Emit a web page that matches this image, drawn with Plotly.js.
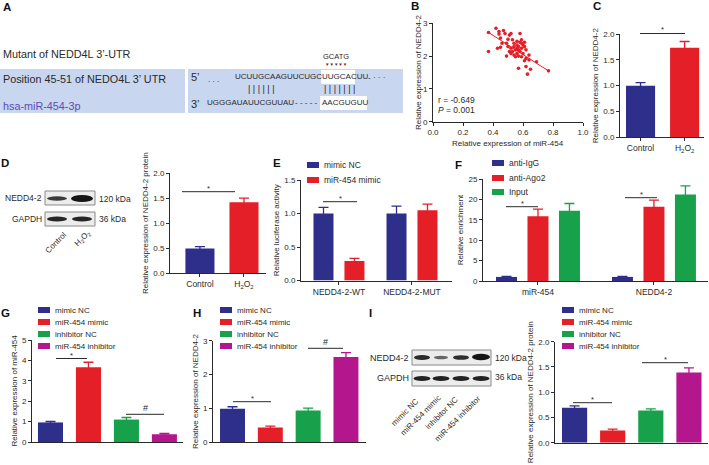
<!DOCTYPE html>
<html><head><meta charset="utf-8">
<script src="https://cdn.plot.ly/plotly-3.0.1.min.js"></script>
<style>html,body{margin:0;padding:0;background:#fff}#chart{width:709px;height:465px}</style>
</head><body><div id="chart"></div>
<script>
// ================= DATA =================
// B: correlation scatter
const scatterMiR454 = [0.37,0.37,0.42,0.44,0.44,0.45,0.47,0.48,0.43,0.45,0.49,0.50,0.51,0.52,0.53,0.56,0.58,0.59,0.60,0.61,0.61,0.59,0.57,0.55,0.53,0.51,0.52,0.54,0.56,0.57,0.58,0.60,0.56,0.54,0.52,0.49,0.55,0.57,0.59,0.62,0.61,0.64,0.57,0.62,0.65,0.63,0.69,0.77,0.58,0.54,0.46,0.59,0.62,0.64,0.50,0.56];
const scatterNEDD42 = [2.72,2.14,2.85,2.75,2.67,2.55,2.78,2.69,2.24,2.27,2.39,2.51,2.64,2.69,2.50,2.45,2.42,2.39,2.34,2.42,2.29,2.24,2.19,2.19,2.14,2.14,2.24,2.29,2.24,2.29,2.14,2.08,2.08,2.03,2.08,2.00,1.98,2.00,1.98,1.93,1.86,1.88,1.63,1.68,1.60,1.45,1.83,1.55,2.69,2.39,2.39,2.50,2.19,2.03,2.29,2.34];
const fitMiR454 = [0.37, 0.77];
const fitNEDD42 = [2.72, 1.55];
const statR = '-0.649';
const statP = '0.001';

// C: NEDD4-2 mRNA, Control vs H2O2
const ctrlCategories = ['Control', 'H<sub>2</sub>O<sub>2</sub>'];
const cValues = [1.00, 1.74];
const cErrors = [0.06, 0.12];

// D: NEDD4-2 protein, Control vs H2O2
const dValues = [0.49, 1.42];
const dErrors = [0.04, 0.08];

// E: luciferase
const eCategories = ['NEDD4-2-WT', 'NEDD4-2-MUT'];
const eSeries = ['mimic NC', 'miR-454 mimic'];
const eMimicNC = [1.00, 1.00];
const eMimicNCErr = [0.09, 0.11];
const eMiR454Mimic = [0.29, 1.05];
const eMiR454MimicErr = [0.04, 0.09];

// F: RIP enrichment
const fCategories = ['miR-454', 'NEDD4-2'];
const fSeries = ['anti-IgG', 'anti-Ago2', 'Input'];
const fAntiIgG = [1.0, 1.0];
const fAntiIgGErr = [0.15, 0.15];
const fAntiAgo2 = [15.9, 18.2];
const fAntiAgo2Err = [1.7, 1.6];
const fInput = [17.2, 21.2];
const fInputErr = [1.8, 2.1];

// G, H, I
const ghiSeries = ['mimic NC', 'miR-454 mimic', 'inhibitor NC', 'miR-454 inhibitor'];
const gValues = [0.96, 3.66, 1.10, 0.38];
const gErrors = [0.05, 0.25, 0.10, 0.04];
const hValues = [0.99, 0.44, 0.94, 2.52];
const hErrors = [0.06, 0.04, 0.07, 0.13];
const iValues = [0.69, 0.24, 0.64, 1.39];
const iErrors = [0.04, 0.03, 0.03, 0.09];

// ================= STYLE / LAYOUT HELPERS =================
const W = 709, H = 465;
const FONT = 'Liberation Sans, Arial, Helvetica, sans-serif';
const INK = '#2a2a2a';
const BLUE = '#2e2f8a', RED = '#e41f27', GREEN = '#17a14b', MAG = '#b4178d';
const PAL4 = [BLUE, RED, GREEN, MAG];
const X = p => p / W;
const Y = p => 1 - p / H;

const layout = {
  width: W, height: H, margin: {l: 0, r: 0, t: 0, b: 0},
  paper_bgcolor: '#fff', plot_bgcolor: 'rgba(0,0,0,0)',
  showlegend: false, barmode: 'overlay',
  font: {family: FONT, size: 8, color: INK},
  shapes: [], annotations: []
};
const data = [];

function yAxis(xId, top, bottom, range, dtick, fmt, title, standoff) {
  return {domain: [Y(bottom), Y(top)], anchor: xId, range: range, dtick: dtick, tick0: 0, tickformat: fmt,
    showline: true, linecolor: INK, linewidth: 1, ticks: 'outside', ticklen: 3, tickwidth: 1, tickcolor: INK,
    tickfont: {family: FONT, size: 8, color: INK}, showgrid: false, zeroline: false, fixedrange: true,
    title: {text: title, font: {family: FONT, size: 8, color: INK}, standoff: standoff === undefined ? 3 : standoff}};
}
function xAxis(yId, left, right, range, showLabels, type) {
  return {domain: [X(left), X(right)], anchor: yId, range: range, type: type || 'category',
    showline: true, linecolor: INK, linewidth: 1, ticks: showLabels ? 'outside' : '', ticklen: 3, tickwidth: 1, tickcolor: INK,
    showticklabels: showLabels, tickfont: {family: FONT, size: 8.5, color: INK}, showgrid: false, zeroline: false, fixedrange: true};
}
function bar(xa, ya, cats, vals, errs, color, width, offset) {
  data.push({type: 'bar', x: cats, y: vals, xaxis: xa, yaxis: ya, width: width, offset: offset,
    marker: {color: color, line: {width: 0}},
    error_y: {type: 'data', array: errs, symmetric: true, visible: true, color: color, thickness: 1.3, width: 5},
    hoverinfo: 'skip', showlegend: false});
}
function text(x, y, t, opt) {
  opt = opt || {};
  layout.annotations.push(Object.assign({xref: 'paper', yref: 'paper', x: X(x), y: Y(y), text: t, showarrow: false,
    xanchor: 'left', yanchor: 'middle', borderpad: 0,
    font: {family: FONT, size: opt.size || 8.5, color: opt.color || INK}}, opt.extra || {}));
}
function rect(x0, y0, x1, y1, fill, line, lw) {
  layout.shapes.push({type: 'rect', xref: 'paper', yref: 'paper', x0: X(x0), x1: X(x1), y0: Y(y0), y1: Y(y1),
    fillcolor: fill, line: {color: line || fill, width: lw === undefined ? 0 : lw}, layer: 'above'});
}
function ellipse(cx, cy, rx, ry, fill) {
  layout.shapes.push({type: 'circle', xref: 'paper', yref: 'paper', x0: X(cx - rx), x1: X(cx + rx), y0: Y(cy + ry), y1: Y(cy - ry),
    fillcolor: fill, line: {width: 0}, layer: 'above'});
}
function line(x0, y0, x1, y1, color, w) {
  layout.shapes.push({type: 'line', xref: 'paper', yref: 'paper', x0: X(x0), x1: X(x1), y0: Y(y0), y1: Y(y1),
    line: {color: color || INK, width: w || 1}, layer: 'above'});
}
function sig(x0, x1, y, mark) {
  line(x0, y, x1, y, INK, 1);
  text((x0 + x1) / 2, y - (mark === '*' ? 3.5 : 6), mark, {size: mark === '*' ? 7.5 : 9, extra: {xanchor: 'center'}});
}
function legend(x, rows, names, colors, size) {
  names.forEach((n, i) => {
    rect(x, rows[i] - 3, x + 12, rows[i] + 3, colors[i]);
    text(x + 16, rows[i], n, {size: size || 8});
  });
}
function panelLetter(x, y, L) { text(x, y, '<b>' + L + '</b>', {size: 11.5, color: '#111', extra: {xanchor: 'center'}}); }
// rotated (-45deg) label whose upper-right end sits at (endX, endY)
function rotLabel(t, endX, endY, size) {
  text(endX, endY, t, {size: size, extra: {xanchor: 'right', yanchor: 'top', textangle: -45}});
}

// ================= PANEL A =================
panelLetter(7, 7, 'A');
text(2, 54, 'Mutant of NEDD4L 3’-UTR', {size: 10.8});
rect(0, 69, 403, 113, '#c8d6ef');
rect(185, 69, 188, 113, '#ffffff');
text(2, 79, 'Position 45-51 of NEDO4L 3’ UTR', {size: 10.8});
text(2, 106, 'hsa-miR-454-3p', {size: 10.8, color: '#5a4db3'});
rect(321, 70, 355, 84, '#ffffff');
rect(320, 96, 367, 110, '#ffffff');
text(190, 77, '5’', {size: 11});
text(207, 79, '. . .', {size: 8});
text(234, 77, 'UCUUGCAAGUUCUGC', {size: 8});
text(321, 77, 'UUGCACUU', {size: 8});
text(367, 78, '- · · ·', {size: 8});
text(247, 89, '| | | | | |', {size: 9});
text(323, 89, '| | | | | | |', {size: 9});
text(190, 104, '3’', {size: 11});
text(206, 103, 'UGGGAUAUUCGUUAU', {size: 8});
text(294, 103, '- - - - -', {size: 8});
text(321, 103, 'AACGUGUU', {size: 8});
text(336, 56, 'GCATG', {size: 7.5, extra: {xanchor: 'center'}});
text(336, 64, '▼▼▼▼▼', {size: 4.5, color: '#6b2a20', extra: {xanchor: 'center'}});

// ================= PANEL B (scatter) =================
panelLetter(415, 6, 'B');
layout.xaxis = xAxis('y', 433, 583, [0, 1.0], true, 'linear');
Object.assign(layout.xaxis, {dtick: 0.2, tick0: 0, tickformat: '.1f', tickfont: {family: FONT, size: 8, color: INK}});
layout.yaxis = yAxis('x', 23.3, 121.7, [0, 3], 1, 'd', 'Relative expression of NEDD4-2', 0);
data.push({type: 'scatter', mode: 'markers', x: scatterMiR454, y: scatterNEDD42, xaxis: 'x', yaxis: 'y',
  marker: {color: RED, size: 3.6}, hoverinfo: 'skip', cliponaxis: false});
data.push({type: 'scatter', mode: 'lines', x: fitMiR454, y: fitNEDD42, xaxis: 'x', yaxis: 'y',
  line: {color: RED, width: 1}, hoverinfo: 'skip'});
text(508, 143, 'Relative expression of miR-454', {size: 8, extra: {xanchor: 'center'}});
text(437, 100, 'r = ' + statR, {size: 8.5});
text(437, 110, '<i>P</i> = ' + statP, {size: 8.5});

// ================= PANEL C =================
panelLetter(597, 6, 'C');
layout.xaxis2 = xAxis('y2', 620, 704, [-0.466, 1.44], true);
layout.yaxis2 = yAxis('x2', 34.3, 137, [0, 2], 0.5, '.1f', 'Relative expression of NEDD4-2');
ctrlCategories.forEach((c, i) => bar('x2', 'y2', [c], [cValues[i]], [cErrors[i]], i ? RED : BLUE, 0.66, -0.33));
sig(640, 685, 33.5, '*');

// ================= PANEL D =================
panelLetter(5, 163, 'D');
rect(45, 191, 95, 205, '#ececec', '#8a8a8a', 1);
rect(45, 212, 95, 226, '#ececec', '#8a8a8a', 1);
ellipse(57, 198.5, 10, 2.2, '#3a3a3a');
ellipse(82, 198.5, 11, 3.6, '#161616');
ellipse(57, 219, 10, 2.6, '#262626');
ellipse(82, 219, 10, 2.6, '#262626');
text(43, 198, 'NEDD4-2', {size: 8.5, extra: {xanchor: 'right'}});
text(43, 219, 'GAPDH', {size: 8.5, extra: {xanchor: 'right'}});
text(98, 199, '120 kDa', {size: 8.5});
text(98, 219, '36 kDa', {size: 8.5});
rotLabel('Control', 70, 229, 8);
rotLabel('H<sub>2</sub>O<sub>2</sub>', 94, 228, 8);
layout.xaxis3 = xAxis('y3', 170, 266, [-0.68, 1.5], true);
layout.yaxis3 = yAxis('x3', 173.3, 273, [0, 2], 0.5, '.1f', 'Relative expression of NEDD4-2 protein');
ctrlCategories.forEach((c, i) => bar('x3', 'y3', [c], [dValues[i]], [dErrors[i]], i ? RED : BLUE, 0.66, -0.33));
sig(182, 235, 191.7, '*');

// ================= PANEL E =================
panelLetter(277, 163, 'E');
legend(307, [165, 180], eSeries, [BLUE, RED], 8.5);
layout.xaxis4 = xAxis('y4', 301, 452, [-0.52, 1.548], true);
layout.yaxis4 = yAxis('x4', 180, 280.5, [0, 1.5], 0.5, '.1f', 'Relative luciferase activity');
bar('x4', 'y4', eCategories, eMimicNC, eMimicNCErr, BLUE, 0.274, -0.349);
bar('x4', 'y4', eCategories, eMiR454Mimic, eMiR454MimicErr, RED, 0.274, 0.075);
sig(323, 357, 201.7, '*');

// ================= PANEL F =================
panelLetter(458, 165, 'F');
legend(492, [163, 178, 192], fSeries, [BLUE, RED, GREEN], 8.5);
layout.xaxis5 = xAxis('y5', 483, 708, [-0.474, 1.466], true);
layout.yaxis5 = yAxis('x5', 179, 281, [0, 25], 5, 'd', 'Relative enrichment');
bar('x5', 'y5', fCategories, fAntiIgG, fAntiIgGErr, BLUE, 0.181, -0.362);
bar('x5', 'y5', fCategories, fAntiAgo2, fAntiAgo2Err, RED, 0.181, -0.0905);
bar('x5', 'y5', fCategories, fInput, fInputErr, GREEN, 0.181, 0.181);
sig(506, 538, 206.7, '*');
sig(625, 657, 197.7, '*');

// ================= PANEL G =================
panelLetter(5, 313, 'G');
legend(38, [310, 322, 334, 346], ghiSeries, PAL4, 8);
layout.xaxis6 = xAxis('y6', 32, 183, [-0.487, 3.49], false);
layout.yaxis6 = yAxis('x6', 340, 442, [0, 5], 1, 'd', 'Relative expression of miR-454');
ghiSeries.forEach((s, i) => bar('x6', 'y6', [s], [gValues[i]], [gErrors[i]], PAL4[i], 0.66, -0.33));
sig(56, 87, 358.5, '*');
sig(126, 164, 414.3, '#');

// ================= PANEL H =================
panelLetter(197, 313, 'H');
legend(220, [310, 322, 334, 346], ghiSeries, PAL4, 8);
layout.xaxis7 = xAxis('y7', 213, 366, [-0.516, 3.53], false);
layout.yaxis7 = yAxis('x7', 340.7, 442.3, [0, 3], 1, 'd', 'Relative expression of NEDD4-2');
ghiSeries.forEach((s, i) => bar('x7', 'y7', [s], [hValues[i]], [hErrors[i]], PAL4[i], 0.66, -0.33));
sig(233, 271, 401.7, '*');
sig(308, 343, 348.3, '#');

// ================= PANEL I =================
panelLetter(370, 313, 'I');
rect(412, 350, 491, 365, '#ececec', '#8a8a8a', 1);
rect(412, 371, 491, 386, '#ececec', '#8a8a8a', 1);
ellipse(422, 357.5, 8, 2.4, '#2a2a2a');
ellipse(441, 357.5, 7, 1.7, '#666666');
ellipse(461, 357.5, 8, 2.3, '#2e2e2e');
ellipse(481, 357, 9, 3.2, '#151515');
[422, 441, 461, 481].forEach(cx => ellipse(cx, 378.5, 8.5, 2.6, '#222'));
text(410, 358, 'NEDD4-2', {size: 9, extra: {xanchor: 'right'}});
text(410, 378, 'GAPDH', {size: 9, extra: {xanchor: 'right'}});
text(494, 358, '120 kDa', {size: 8.5});
text(494, 377, '36 kDa', {size: 8.5});
rotLabel(ghiSeries[0], 422, 396, 8);
rotLabel(ghiSeries[1], 444, 392, 8);
rotLabel(ghiSeries[2], 461, 394, 8);
rotLabel(ghiSeries[3], 484, 392, 8);
legend(562, [310, 322, 334, 346], ghiSeries, PAL4, 8);
layout.xaxis8 = xAxis('y8', 555, 708, [-0.513, 3.5], false);
layout.yaxis8 = yAxis('x8', 341.7, 442.7, [0, 2], 0.5, '.1f', 'Relative expression of NEDD4-2 protein');
ghiSeries.forEach((s, i) => bar('x8', 'y8', [s], [iValues[i]], [iErrors[i]], PAL4[i], 0.66, -0.33));
sig(573, 612, 402.7, '*');
sig(642, 688, 362.7, '*');

Plotly.newPlot('chart', data, layout, {staticPlot: true, displayModeBar: false});
</script>
</body></html>
